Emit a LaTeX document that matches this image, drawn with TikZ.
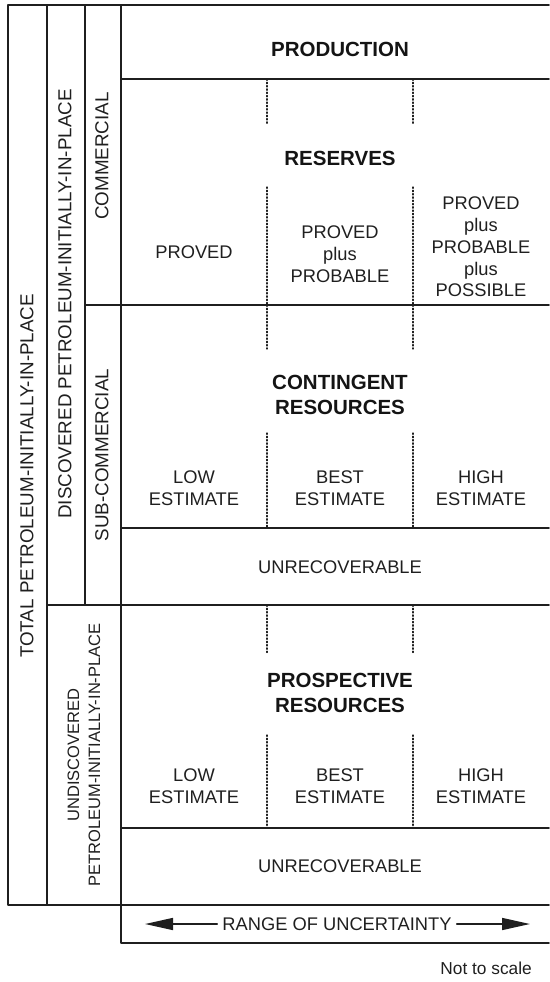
\documentclass[tikz,border=0pt]{standalone}
\usepackage{fontspec}
\setmainfont{Liberation Sans}
\usetikzlibrary{arrows.meta}

\begin{document}
\begin{tikzpicture}[line cap=round,line join=round, x=1pt, y=-1pt,
						rule/.style={line width=1.8pt, color=black!88},
						divider/.style={line width=1.3pt, dotted, color=black!88},
						txt/.style={font=\fontsize{18.3}{21.7}\selectfont, align=center, inner sep=0pt, color=black!88},
						side/.style={txt, rotate=90, font=\fontsize{18.8}{21.5}\selectfont},
						head/.style={font=\fontsize{20.5}{25}\selectfont\bfseries, align=center, inner sep=0pt, color=black!92}]
						\useasboundingbox (0,0) rectangle (549,982);
						\draw[rule] (549,5) -- (8,5) -- (8,905) -- (549,905);
						\draw[rule] (47,5) -- (47,905);
						\draw[rule] (85,5) -- (85,605);
						\draw[rule] (121,5) -- (121,943) -- (549,943);
						\foreach \y/\a in {79/121,305/85,528/121,605/47,828/121}
						\draw[rule] (\a,\y) -- (549,\y);
						\foreach \x in {267,413}
						\foreach \a/\b in {79/125,187/305,305/349,433/528,605/653,735/828}
						\draw[divider] (\x,\a) -- (\x,\b);
						\node[side] (total) at (27,476) {TOTAL PETROLEUM-INITIALLY-IN-PLACE};
						\node[side] (discovered) at (65,304) {DISCOVERED PETROLEUM-INITIALLY-IN-PLACE};
						\node[side] (commercial) at (102,156) {COMMERCIAL};
						\node[side] (subcommercial) at (102,455) {SUB-COMMERCIAL};
						\node[side,font=\fontsize{16.5}{21}\selectfont] (undiscovered) at (84,755) {UNDISCOVERED\\PETROLEUM-INITIALLY-IN-PLACE};
						\node[head] (production) at (340,49) {PRODUCTION};
						\node[head] (reserves) at (340,158) {RESERVES};
						\node[txt] (proved) at (194,252) {PROVED};
						\node[txt] (probable) at (340,254) {PROVED\\plus\\PROBABLE};
						\node[txt] (possible) at (481,247) {PROVED\\plus\\PROBABLE\\plus\\POSSIBLE};
						\node[head] (contingent) at (340,395) {CONTINGENT\\RESOURCES};
						\node[head] (prospective) at (340,693) {PROSPECTIVE\\RESOURCES};
						\foreach \y/\r in {488/c,786/p} {
							\node[txt] (low\r) at (194,\y) {LOW\\ESTIMATE};
							\node[txt] (best\r) at (340,\y) {BEST\\ESTIMATE};
							\node[txt] (high\r) at (481,\y) {HIGH\\ESTIMATE};
						}
						\node[txt] (unrecc) at (340,567) {UNRECOVERABLE};
						\node[txt] (unrecp) at (340,866) {UNRECOVERABLE};
						\node[txt,inner xsep=5pt] (range) at (337,924) {RANGE OF UNCERTAINTY};
						\coordinate (rangeL) at (145,924);
						\coordinate (rangeR) at (530,924);
						\draw[-{Triangle[length=28pt, width=12pt]},line width=1.5pt,color=black!88] (range.west) -- (rangeL);
						\draw[-{Triangle[length=28pt, width=12pt]},line width=1.5pt,color=black!88] (range.east) -- (rangeR);
						\node[txt,anchor=east,font=\fontsize{17.3}{20}\selectfont] (scale) at (532,968) {Not to scale};
					\end{tikzpicture}
\end{document}
